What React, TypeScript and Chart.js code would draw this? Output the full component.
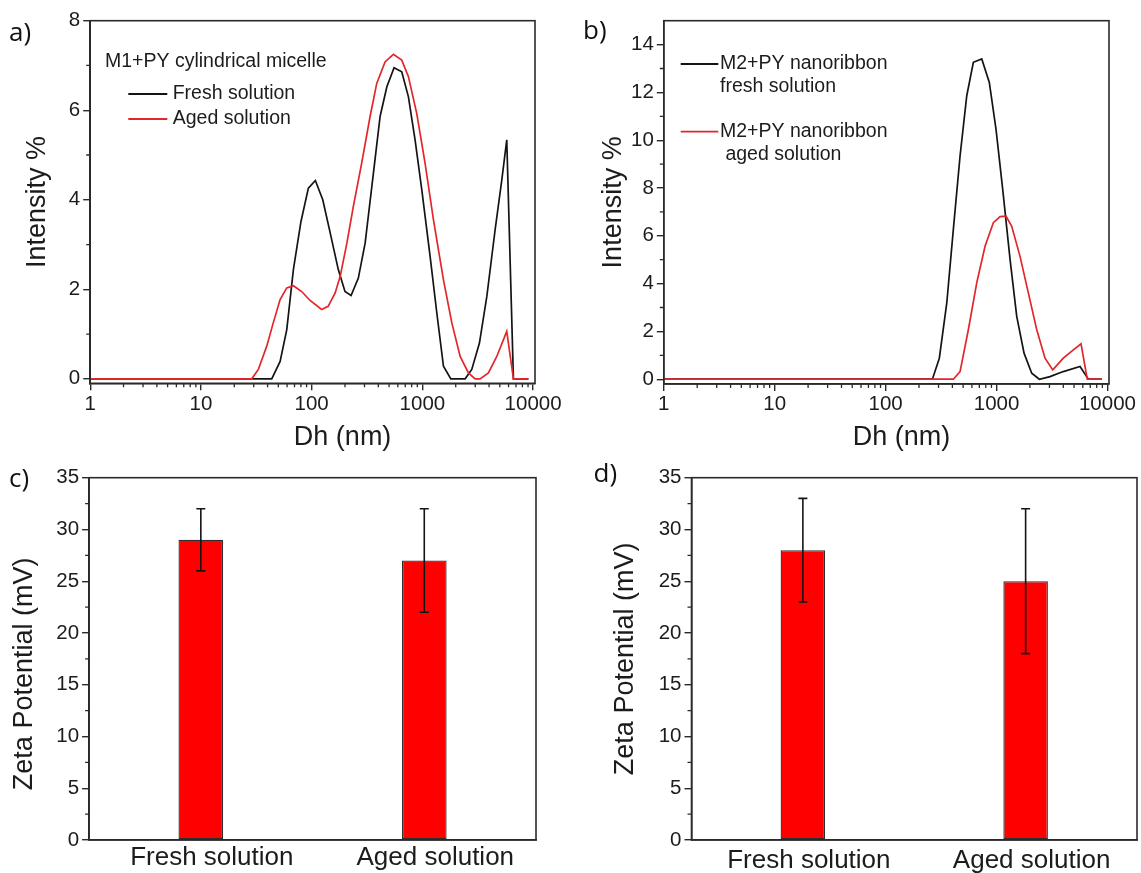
import React, { useEffect, useRef } from 'react';
import { Chart, registerables } from 'chart.js';

Chart.register(...registerables);

const FONT = '"Liberation Sans", Arial, Helvetica, sans-serif';
const LABEL_FONT = '"Open Sans", "Liberation Sans", sans-serif';
const INK = '#1c1c1c';
const AXIS = '#2a2a2a';
const BLACK_LINE = '#141414';
const RED_LINE = '#e3262b';
const BAR_RED = '#ff0000';

Chart.defaults.font.family = FONT;

// ---------- Panel a: M1+PY cylindrical micelle (DLS) ----------
const aFreshDh = [1, 43.6, 51.9, 59.6, 68.4, 80, 93.4, 108, 126, 147, 174, 200, 227, 264, 304, 361, 415, 477, 555, 651, 748, 859, 988, 1175, 1350, 1550, 1806, 2432, 2793, 3275, 3820, 4538, 5212, 5781, 6640, 9070];
const aFreshInt = [0, 0, 0.39, 1.1, 2.44, 3.51, 4.26, 4.43, 4.0, 3.26, 2.44, 1.95, 1.86, 2.25, 3.03, 4.59, 5.86, 6.52, 6.95, 6.86, 6.3, 5.34, 4.22, 2.73, 1.47, 0.28, 0, 0, 0.21, 0.8, 1.84, 3.33, 4.44, 5.34, 0, 0];
const aAgedDh = [1, 28.8, 33, 39.3, 45, 51.9, 59.6, 68.4, 81.3, 96.8, 123, 141, 163, 181, 208, 238, 283, 337, 387, 460, 547, 651, 748, 889, 1057, 1259, 1550, 1845, 2193, 2606, 2993, 3319, 3948, 4697, 5781, 6640, 9070];
const aAgedInt = [0, 0, 0.21, 0.73, 1.25, 1.77, 2.03, 2.08, 1.95, 1.75, 1.55, 1.62, 1.92, 2.29, 3.03, 3.85, 4.82, 5.86, 6.6, 7.08, 7.25, 7.12, 6.75, 5.93, 4.82, 3.55, 2.21, 1.25, 0.5, 0.13, 0, 0, 0.13, 0.5, 1.06, 0, 0];
const aLegendTitle = 'M1+PY cylindrical micelle';
const aLegendLines = [['Fresh solution'], ['Aged solution']];

// ---------- Panel b: M2+PY nanoribbon (DLS) ----------
const bFreshDh = [1, 264, 305, 356, 408, 469, 539, 618, 736, 861, 989, 1137, 1325, 1521, 1771, 2077, 2432, 3034, 4000, 5660, 6730, 8890];
const bFreshInt = [0, 0, 0.88, 3.19, 6.27, 9.34, 11.86, 13.26, 13.4, 12.42, 10.46, 7.94, 5.0, 2.63, 1.09, 0.25, 0, 0.11, 0.32, 0.53, 0, 0];
const bAgedDh = [1, 408, 469, 557, 663, 788, 936, 1076, 1219, 1371, 1629, 1936, 2305, 2738, 3213, 4000, 4929, 5781, 6580, 8890];
const bAgedInt = [0, 0, 0.32, 2.07, 4.03, 5.56, 6.55, 6.8, 6.82, 6.4, 5.14, 3.61, 2.07, 0.88, 0.39, 0.88, 1.23, 1.48, 0, 0];
const bLegendLines = [['M2+PY nanoribbon', 'fresh solution'], ['M2+PY nanoribbon', ' aged solution']];

// ---------- Axes ----------
const dhMajorTicks = [1, 10, 100, 1000, 10000];
const dhMinorTicks = [2, 3, 4, 5, 6, 7, 8, 9, 20, 30, 40, 50, 60, 70, 80, 90, 200, 300, 400, 500, 600, 700, 800, 900, 2000, 3000, 4000, 5000, 6000, 7000, 8000, 9000];
const aYTicks = [0, 2, 4, 6, 8];
const aYMinor = [1, 3, 5, 7];
const bYTicks = [0, 2, 4, 6, 8, 10, 12, 14];
const bYMinor = [1, 3, 5, 7, 9, 11, 13];
const zetaTicks = [0, 5, 10, 15, 20, 25, 30, 35];
const zetaMinor = [2.5, 7.5, 12.5, 17.5, 22.5, 27.5, 32.5];

// ---------- Panels c, d: zeta potential ----------
const zetaCategories = ['Fresh solution', 'Aged solution'];
const cZeta = [29, 27];
const cLow = [26, 22];
const cHigh = [32, 32];
const dZeta = [28, 25];
const dLow = [23, 18];
const dHigh = [33, 32];

type Geom = { left: number; top: number; w: number; h: number; area: { left: number; top: number; right: number; bottom: number } };

const geomA: Geom = { left: 0, top: 0, w: 570, h: 455, area: { left: 90.2, top: 20.7, right: 535, bottom: 383.3 } };
const geomB: Geom = { left: 570, top: 0, w: 571, h: 455, area: { left: 93.8, top: 20.7, right: 539, bottom: 384 } };
const geomC: Geom = { left: 0, top: 455, w: 570, h: 418, area: { left: 89.1, top: 22.7, right: 536, bottom: 385 } };
const geomD: Geom = { left: 570, top: 455, w: 571, h: 418, area: { left: 121.5, top: 22.7, right: 567, bottom: 385 } };

const toXY = (xs: number[], ys: number[]) => xs.map((x, i) => ({ x, y: ys[i] }));

const framePlugin = {
  id: 'panelFrame',
  afterDraw(chart: any) {
    const { ctx, chartArea: a } = chart;
    ctx.save();
    ctx.strokeStyle = AXIS;
    ctx.lineWidth = 1.6;
    ctx.strokeRect(a.left, a.top, a.right - a.left, a.bottom - a.top);
    ctx.restore();
  },
};

function minorTicksPlugin(xVals: number[], yVals: number[], len: number) {
  return {
    id: 'minorTicks',
    afterDraw(chart: any) {
      const { ctx } = chart;
      const xs = chart.scales.x;
      const ys = chart.scales.y;
      ctx.save();
      ctx.strokeStyle = AXIS;
      ctx.lineWidth = 1.3;
      ctx.beginPath();
      xVals.forEach((v) => {
        const px = xs.getPixelForValue(v);
        ctx.moveTo(px, xs.top);
        ctx.lineTo(px, xs.top + len);
      });
      yVals.forEach((v) => {
        const py = ys.getPixelForValue(v);
        ctx.moveTo(ys.right, py);
        ctx.lineTo(ys.right - len, py);
      });
      ctx.stroke();
      ctx.restore();
    },
  };
}

function panelLabelPlugin(text: string, x: number, y: number) {
  return {
    id: 'panelLabel',
    afterDraw(chart: any) {
      const { ctx } = chart;
      ctx.save();
      ctx.font = `26px ${LABEL_FONT}`;
      ctx.fillStyle = '#111';
      ctx.textAlign = 'left';
      ctx.textBaseline = 'middle';
      ctx.fillText(text, x, y);
      ctx.restore();
    },
  };
}

type LegendOpts = {
  title?: string;
  titleDx?: number;
  titleDy?: number;
  lines: string[][];
  dy0: number;
  entryGap: number;
  lineGap: number;
  lineDx0: number;
  lineDx1: number;
  textDx: number;
};

function legendPlugin(o: LegendOpts) {
  return {
    id: 'panelLegend',
    afterDraw(chart: any) {
      const { ctx, chartArea: a } = chart;
      ctx.save();
      ctx.font = `19.5px ${FONT}`;
      ctx.fillStyle = INK;
      ctx.textAlign = 'left';
      ctx.textBaseline = 'middle';
      if (o.title) ctx.fillText(o.title, a.left + (o.titleDx || 0), a.top + (o.titleDy || 0));
      o.lines.forEach((lines, i) => {
        const ds = chart.data.datasets[i];
        const y = a.top + o.dy0 + i * o.entryGap;
        ctx.strokeStyle = ds.borderColor;
        ctx.lineWidth = 1.8;
        ctx.beginPath();
        ctx.moveTo(a.left + o.lineDx0, y);
        ctx.lineTo(a.left + o.lineDx1, y);
        ctx.stroke();
        lines.forEach((t, j) => ctx.fillText(t, a.left + o.textDx, y + j * o.lineGap));
      });
      ctx.restore();
    },
  };
}

function errorBarsPlugin(low: number[], high: number[]) {
  return {
    id: 'errorBars',
    afterDatasetsDraw(chart: any) {
      const meta = chart.getDatasetMeta(0);
      const ys = chart.scales.y;
      const { ctx } = chart;
      ctx.save();
      ctx.strokeStyle = '#151515';
      ctx.lineWidth = 1.6;
      meta.data.forEach((bar: any, i: number) => {
        const x = bar.x;
        const y1 = ys.getPixelForValue(low[i]);
        const y2 = ys.getPixelForValue(high[i]);
        ctx.beginPath();
        ctx.moveTo(x, y1);
        ctx.lineTo(x, y2);
        ctx.moveTo(x - 4.5, y1);
        ctx.lineTo(x + 4.5, y1);
        ctx.moveTo(x - 4.5, y2);
        ctx.lineTo(x + 4.5, y2);
        ctx.stroke();
      });
      ctx.restore();
    },
  };
}

function yAxis(o: { min: number; max: number; width: number; ticks: number[]; title: string; titlePad: number }) {
  return {
    type: 'linear',
    min: o.min,
    max: o.max,
    afterFit: (s: any) => {
      s.width = o.width;
    },
    afterBuildTicks: (s: any) => {
      s.ticks = o.ticks.map((v) => ({ value: v }));
    },
    ticks: { callback: (v: any) => String(v), font: { family: FONT, size: 20.5 }, color: INK, padding: 3, autoSkip: false },
    grid: { drawOnChartArea: false, drawTicks: true, tickLength: 7, color: AXIS, lineWidth: 1.4 },
    border: { display: true, color: AXIS, width: 1.6 },
    title: { display: true, text: o.title, font: { family: FONT, size: 27 }, color: INK, padding: { top: o.titlePad, bottom: 0 } },
  };
}

type DlsParams = {
  geom: Geom;
  fresh: { x: number; y: number }[];
  aged: { x: number; y: number }[];
  freshLabel: string;
  agedLabel: string;
  xMax: number;
  yMin: number;
  yMax: number;
  yTicks: number[];
  yMinor: number[];
  yTitlePad: number;
  xTickPad: number;
  xTitle: string;
  xTitlePad: number;
  label: [string, number, number];
  legend: LegendOpts;
};

function dlsConfig(p: DlsParams): any {
  const g = p.geom;
  return {
    type: 'line',
    data: {
      datasets: [
        { label: p.freshLabel, data: p.fresh, borderColor: BLACK_LINE, borderWidth: 1.7, pointRadius: 0, tension: 0, fill: false, order: 1 },
        { label: p.agedLabel, data: p.aged, borderColor: RED_LINE, borderWidth: 1.7, pointRadius: 0, tension: 0, fill: false, order: 0 },
      ],
    },
    options: {
      responsive: false,
      animation: false,
      events: [],
      layout: { padding: { left: 0, top: g.area.top, right: g.w - g.area.right, bottom: 0 } },
      scales: {
        x: {
          type: 'logarithmic',
          min: 1,
          max: p.xMax,
          afterFit: (s: any) => {
            s.height = g.h - g.area.bottom;
          },
          afterBuildTicks: (s: any) => {
            s.ticks = dhMajorTicks.map((v) => ({ value: v }));
          },
          ticks: { callback: (v: any) => String(v), font: { family: FONT, size: 20.5 }, color: INK, padding: p.xTickPad, maxRotation: 0, autoSkip: false },
          grid: { drawOnChartArea: false, drawTicks: true, tickLength: 7, color: AXIS, lineWidth: 1.4 },
          border: { display: true, color: AXIS, width: 1.6 },
          title: { display: true, text: p.xTitle, font: { family: FONT, size: 27 }, color: INK, padding: { top: 0, bottom: p.xTitlePad } },
        },
        y: yAxis({ min: p.yMin, max: p.yMax, width: g.area.left, ticks: p.yTicks, title: 'Intensity %', titlePad: p.yTitlePad }),
      },
      plugins: { legend: { display: false }, tooltip: { enabled: false } },
    },
    plugins: [
      minorTicksPlugin(dhMinorTicks, p.yMinor, 4),
      framePlugin,
      legendPlugin(p.legend),
      panelLabelPlugin(p.label[0], p.label[1], p.label[2]),
    ],
  };
}

type ZetaParams = {
  geom: Geom;
  values: number[];
  low: number[];
  high: number[];
  yTitle: string;
  yTitlePad: number;
  xTickPad: number;
  labelOffset: number;
  label: [string, number, number];
};

function zetaConfig(p: ZetaParams): any {
  const g = p.geom;
  return {
    type: 'bar',
    data: {
      labels: zetaCategories,
      datasets: [
        {
          label: 'Zeta potential',
          data: p.values,
          backgroundColor: BAR_RED,
          borderColor: '#2e2e2e',
          borderWidth: 1.3,
          borderSkipped: false,
          barPercentage: 0.2,
          categoryPercentage: 1,
        },
      ],
    },
    options: {
      responsive: false,
      animation: false,
      events: [],
      layout: { padding: { left: 0, top: g.area.top, right: g.w - g.area.right, bottom: 0 } },
      scales: {
        x: {
          type: 'category',
          offset: true,
          afterFit: (s: any) => {
            s.height = g.h - g.area.bottom;
          },
          ticks: { font: { family: FONT, size: 26 }, color: INK, padding: p.xTickPad, labelOffset: p.labelOffset, maxRotation: 0, autoSkip: false },
          grid: { display: false, drawTicks: false, drawOnChartArea: false },
          border: { display: true, color: AXIS, width: 1.6 },
        },
        y: yAxis({ min: 0, max: 35, width: g.area.left, ticks: zetaTicks, title: p.yTitle, titlePad: p.yTitlePad }),
      },
      plugins: { legend: { display: false }, tooltip: { enabled: false } },
    },
    plugins: [
      errorBarsPlugin(p.low, p.high),
      minorTicksPlugin([], zetaMinor, 4),
      framePlugin,
      panelLabelPlugin(p.label[0], p.label[1], p.label[2]),
    ],
  };
}

const buildA = () =>
  dlsConfig({
    geom: geomA,
    fresh: toXY(aFreshDh, aFreshInt),
    aged: toXY(aAgedDh, aAgedInt),
    freshLabel: 'Fresh solution',
    agedLabel: 'Aged solution',
    xMax: 10400,
    yMin: -0.1,
    yMax: 8,
    yTicks: aYTicks,
    yMinor: aYMinor,
    yTitlePad: 21.8,
    xTickPad: 1.7,
    xTitle: '        Dh (nm)',
    xTitlePad: 1.3,
    label: ['a)', 9, 34],
    legend: {
      title: aLegendTitle,
      titleDx: 14.8,
      titleDy: 41.3,
      lines: aLegendLines,
      dy0: 73.3,
      entryGap: 25,
      lineGap: 23,
      lineDx0: 38.1,
      lineDx1: 77.1,
      textDx: 82.5,
    },
  });

const buildB = () =>
  dlsConfig({
    geom: geomB,
    fresh: toXY(bFreshDh, bFreshInt),
    aged: toXY(bAgedDh, bAgedInt),
    freshLabel: 'M2+PY nanoribbon fresh solution',
    agedLabel: 'M2+PY nanoribbon aged solution',
    xMax: 10330,
    yMin: -0.2,
    yMax: 15,
    yTicks: bYTicks,
    yMinor: bYMinor,
    yTitlePad: 27.4,
    xTickPad: 1,
    xTitle: '    Dh (nm)',
    xTitlePad: 1.3,
    label: ['b)', 13, 31.5],
    legend: {
      lines: bLegendLines,
      dy0: 43.3,
      entryGap: 67.7,
      lineGap: 22.7,
      lineDx0: 16.9,
      lineDx1: 54.5,
      textDx: 56.2,
    },
  });

const buildC = () =>
  zetaConfig({
    geom: geomC,
    values: cZeta,
    low: cLow,
    high: cHigh,
    yTitle: 'Zeta Potential (mV)    ',
    yTitlePad: 8.3,
    xTickPad: 2.4,
    labelOffset: 11,
    label: ['c)', 9, 25],
  });

const buildD = () =>
  zetaConfig({
    geom: geomD,
    values: dZeta,
    low: dLow,
    high: dHigh,
    yTitle: 'Zeta Potential (mV)',
    yTitlePad: 39.8,
    xTickPad: 5.4,
    labelOffset: 6,
    label: ['d)', 23.6, 20],
  });

function ChartPanel({ geom, build }: { geom: Geom; build: () => any }) {
  const ref = useRef<HTMLCanvasElement | null>(null);
  useEffect(() => {
    if (!ref.current) return;
    const chart = new Chart(ref.current, build());
    return () => chart.destroy();
  }, [build]);
  return (
    <canvas
      ref={ref}
      width={geom.w}
      height={geom.h}
      style={{ position: 'absolute', left: geom.left, top: geom.top, width: geom.w, height: geom.h, display: 'block' }}
    />
  );
}

export default function App() {
  return (
    <div style={{ position: 'absolute', left: 0, top: 0, width: 1141, height: 873, background: '#ffffff', overflow: 'hidden' }}>
      <ChartPanel geom={geomA} build={buildA} />
      <ChartPanel geom={geomB} build={buildB} />
      <ChartPanel geom={geomC} build={buildC} />
      <ChartPanel geom={geomD} build={buildD} />
    </div>
  );
}
